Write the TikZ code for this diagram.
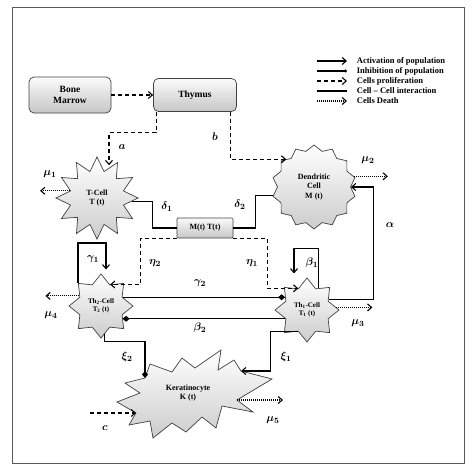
\documentclass[tikz,border=0pt]{standalone}
\usepackage{fontspec}
\setmainfont{Liberation Serif}
\usepackage{bm}
\usetikzlibrary{shapes.geometric,arrows.meta,calc}

\tikzset{
  cellbox/.style={draw=black!75, rounded corners=5pt, top color=gray!3, bottom color=gray!45,
    align=center, font=\bfseries\fontsize{9.5}{11}\selectfont, line width=0.7pt},
  mtbox/.style={draw=black!75, rounded corners=1pt, top color=gray!3, bottom color=gray!45,
    minimum width=56pt, minimum height=20pt, font=\bfseries\fontsize{8}{9}\selectfont, line width=0.7pt},
  cellstar/.style={star, draw=black!75, line width=0.7pt, top color=white, bottom color=gray!40,
    inner sep=0pt, align=center, font=\bfseries\fontsize{8}{9.5}\selectfont},
  tstar/.style={cellstar, star points=12, star point ratio=1.5, minimum size=82pt},
  dstar/.style={cellstar, star points=14, star point ratio=1.15, minimum size=84pt},
  thstar/.style={cellstar, star points=8, star point ratio=1.4, minimum size=64pt,
    font=\bfseries\fontsize{7}{8.5}\selectfont},
  kerfill/.style={draw=black!75, line width=0.7pt, top color=white, bottom color=gray!40},
  kertxt/.style={align=center, font=\bfseries\fontsize{8}{9.5}\selectfont},
  lbl/.style={font=\fontsize{11}{13}\selectfont},
  legtxt/.style={anchor=west, font=\bfseries\fontsize{8.5}{9}\selectfont},
  act/.style={-{Straight Barb[length=4pt,width=7pt]}},
  inh/.style={-{Diamond[length=7pt,width=6pt]}},
  prolif/.style={dash pattern=on 4pt off 3pt, -{Straight Barb[length=4pt,width=7pt]}},
  inter/.style={},
  death/.style={dash pattern=on 1pt off 1pt, -{Straight Barb[length=4pt,width=7pt]}}
}

\begin{document}
\begin{tikzpicture}[x=1pt,y=-1pt,line width=1.1pt]
  \useasboundingbox (0,0) rectangle (474,474);
  \draw[black!65, line width=0.9pt] (12,7) rectangle (464,463);

  % legend
  \node[legtxt] (leg1) at (353,61) {Activation of population};
  \node[legtxt] (leg2) at (353,71) {Inhibition of population};
  \node[legtxt] (leg3) at (353,81) {Cells proliferation};
  \node[legtxt] (leg4) at (353,91) {Cell – Cell interaction};
  \node[legtxt] (leg5) at (353,101) {Cells Death};
  \draw[act] ($(leg1.west)+(-36,0)$) -- ($(leg1.west)+(-6,0)$);
  \draw[-{Circle[length=3pt]}] ($(leg2.west)+(-36,0)$) -- ($(leg2.west)+(-6,0)$);
  \draw[prolif] ($(leg3.west)+(-36,0)$) -- ($(leg3.west)+(-6,0)$);
  \draw[inter] ($(leg4.west)+(-36,0)$) -- ($(leg4.west)+(-6,0)$);
  \draw[death] ($(leg5.west)+(-36,0)$) -- ($(leg5.west)+(-6,0)$);

  % sources
  \node[cellbox, minimum width=82pt, minimum height=36pt] (bm) at (70,95) {Bone\\Marrow};
  \node[cellbox, minimum width=83pt, minimum height=33pt] (thy) at (195,95) {Thymus};

  % cells
  \node[tstar] (tc) at (97,198) {T-Cell\\T (t)};
  \node[dstar] (dc) at (314,187) {Dendritic\\Cell\\M (t)};
  \node[mtbox] (mt) at (205,228) {M(t) T(t)};
  \node[thstar] (th2) at (101,306) {Th\textsubscript{2}-Cell\\T\textsubscript{2} (t)};
  \node[thstar] (th1) at (307,310) {Th\textsubscript{1}-Cell\\T\textsubscript{1} (t)};

  % keratinocyte
  \draw[kerfill] (272,379) -- (237,400) coordinate (kx5) -- (253,412) -- (222,406) -- (216,428)
    -- (202,417) -- (186,432) -- (172,423) -- (153,438) -- (150,421) -- (129,425)
    -- (136,413) coordinate (kx3) -- (117,402) -- (140,393) -- (125,383)
    -- (145,378) coordinate (kx2) -- (150,364) -- (172,372) -- (182,358) -- (195,368)
    -- (221,350) -- (218,370) -- (234,360) -- (241,371) coordinate (kx1) -- cycle;
  \node[kertxt] (ker) at (188,393) {Keratinocyte\\K (t)};
  \coordinate (cin) at (90,413);

  % connectors
  \draw[prolif] (bm.east) -- (bm.east -| thy.west);
  \draw[prolif] ($(thy.south west)+(3,0)$) -- ++(0,21) -| ($(tc.north)+(12,9)$);
  \draw[prolif] ($(thy.south east)+(-6,0)$) |- (dc.135);
  \draw[death] (tc.165) -- ++(-30,0);
  \draw[death] (dc.15) -- ++(34,0);
  \draw[inter] (tc.-5) -- ++(20,0) |- (mt.west);
  \draw[inter] (mt.east) -- ++(22,0) |- (dc.192);
  \draw[prolif] (mt.south west) -- ++(-36,0) |- (th2.67.5);
  \draw[prolif] (mt.south east) -- ++(34,0) |- (th1.112.5);
  \draw[act] (th2.135) -- ++(0,-40) -| ($(th2.north)+(5,-4)$);
  \draw[act] (th1.62) -- ++(0,-40) -| ($(th1.north)+(-13,-4)$);
  \draw[inh] (th2.22.5) -- (th2.22.5 -| th1.150);
  \draw[inh] (th1.202.5) -- (th1.202.5 -| th2.-25);
  \draw[act] (th1.25) -- ++(45,0) |- (dc.east);
  \draw[death] (th1.5) -- ++(36,0);
  \draw[death] (th2.155) -- ++(-34,0);
  \draw[inh] (th2.-82) -- ++(0,8) -| (kx2);
  \draw[act] (th1.-112.5) -- ++(-28,0) |- (kx1);
  \draw[prolif] (cin) -- (kx3);
  \draw[death] (kx5) -- ++(46,0);

  % rate labels
  \node[lbl] (la) at (122,147) {$\bm{a}$};
  \node[lbl] (lb) at (215,137) {$\bm{b}$};
  \node[lbl] (lc) at (105,428) {$\bm{c}$};
  \node[lbl] (lmu1) at (50,174) {$\bm{\mu_1}$};
  \node[lbl] (lmu2) at (368,160) {$\bm{\mu_2}$};
  \node[lbl] (lmu3) at (358,323) {$\bm{\mu_3}$};
  \node[lbl] (lmu4) at (51,315) {$\bm{\mu_4}$};
  \node[lbl] (lmu5) at (273,420) {$\bm{\mu_5}$};
  \node[lbl] (ld1) at (167,207) {$\bm{\delta_1}$};
  \node[lbl] (ld2) at (240,205) {$\bm{\delta_2}$};
  \node[lbl] (lal) at (390,225) {$\bm{\alpha}$};
  \node[lbl] (le2) at (155,263) {$\bm{\eta_2}$};
  \node[lbl] (le1) at (252,263) {$\bm{\eta_1}$};
  \node[lbl] (lg1) at (93,259) {$\bm{\gamma_1}$};
  \node[lbl] (lg2) at (200,283) {$\bm{\gamma_2}$};
  \node[lbl] (lb1) at (312,263) {$\bm{\beta_1}$};
  \node[lbl] (lb2) at (200,328) {$\bm{\beta_2}$};
  \node[lbl] (lx2) at (127,357) {$\bm{\xi_2}$};
  \node[lbl] (lx1) at (286,357) {$\bm{\xi_1}$};
\end{tikzpicture}
\end{document}
